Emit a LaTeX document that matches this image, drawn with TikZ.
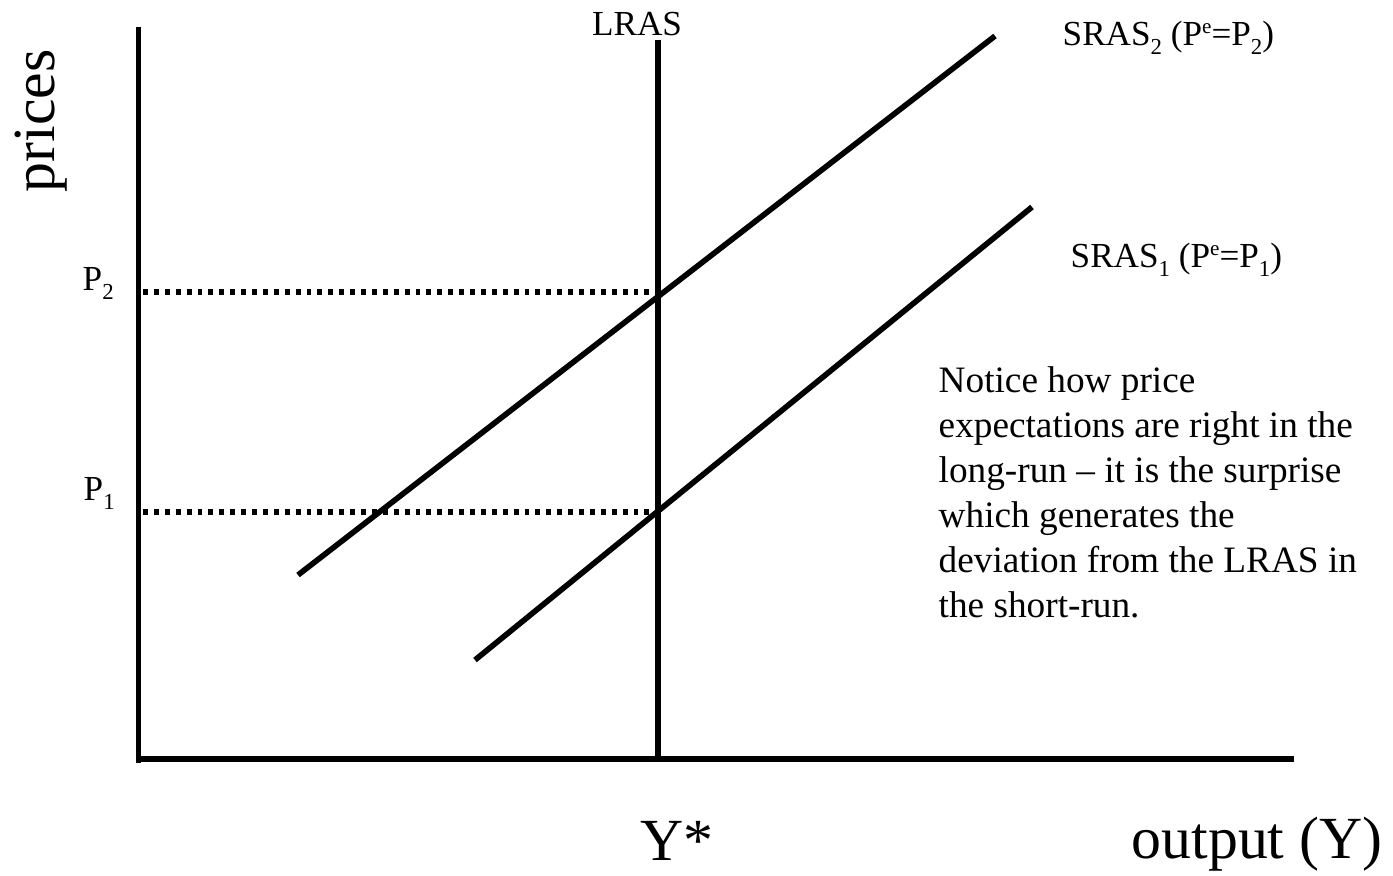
\documentclass[tikz,border=0pt]{standalone}
\usepackage{fontspec}
\setmainfont{Liberation Serif}
\usetikzlibrary{positioning}

\newcommand{\lowsub}[1]{\raisebox{-2.8pt}{\fontsize{6.5}{7}\selectfont #1}}
\newcommand{\highsup}[1]{\raisebox{3.2pt}{\fontsize{6}{7}\selectfont #1}}

\begin{document}
\begin{tikzpicture}[
    x=0.01cm, y=-0.01cm,
    axis/.style={line width=1.6pt},
    curve/.style={line width=1.6pt},
    guide/.style={line width=1.6pt, dash pattern=on 1.4pt off 1.7pt},
    lbl/.style={inner sep=0pt, font=\fontsize{10}{12}\selectfont},
    biglbl/.style={inner sep=0pt, font=\fontsize{17}{20}\selectfont},
    note/.style={inner sep=0pt, align=left, font=\fontsize{10.6}{12.8}\selectfont},
]
\useasboundingbox (0,0) rectangle (1393,875);

% axes
\coordinate (ytop) at (138.5,27);
\coordinate (ybot) at (138.5,763);
\coordinate (xbeg) at (136,759);
\coordinate (xend) at (1294,759);
\draw [axis] (ytop) -- (ybot);
\draw [axis] (xbeg) -- (xend);

% long-run supply
\coordinate (lrastop) at (658,40);
\coordinate (lrasbot) at (658,759);
\draw [curve] (lrastop) -- (lrasbot);

% short-run supply curves
\coordinate (s2a) at (298,575);
\coordinate (s2b) at (995,36);
\coordinate (s1a) at (475,660);
\coordinate (s1b) at (1032,207);
\draw [curve] (s2a) -- (s2b);
\draw [curve] (s1a) -- (s1b);

% price levels
\coordinate (e2) at (658,292);
\coordinate (e1) at (658,512);
\coordinate (p2) at (143,292);
\coordinate (p1) at (143,512);
\draw [guide] (p2) -- (e2);
\draw [guide] (p1) -- (e1);

% labels
\node [biglbl, rotate=90] (prices) at (41,121) {prices};
\node [lbl, anchor=base] (lras) at (637,35) {LRAS};
\node [lbl, anchor=base west] (sras2) at (1062,45) {SRAS\lowsub{2} (P\highsup{e}=P\lowsub{2})};
\node [lbl, anchor=base west] (sras1) at (1070,267) {SRAS\lowsub{1} (P\highsup{e}=P\lowsub{1})};
\node [lbl, anchor=base west] (lblp2) at (82,290) {P\lowsub{2}};
\node [lbl, anchor=base west] (lblp1) at (83,500) {P\lowsub{1}};
\node [biglbl, anchor=base west] (ystar) at (640,860) {Y*};
\node [biglbl, anchor=base west] (output) at (1131,858) {output (Y)};

\node [note, anchor=north west] (notice) at (938,366) {
  Notice how price\\
  expectations are right in the\\
  long-run -- it is the surprise\\
  which generates the\\
  deviation from the LRAS in\\
  the short-run.
};

\end{tikzpicture}
\end{document}
